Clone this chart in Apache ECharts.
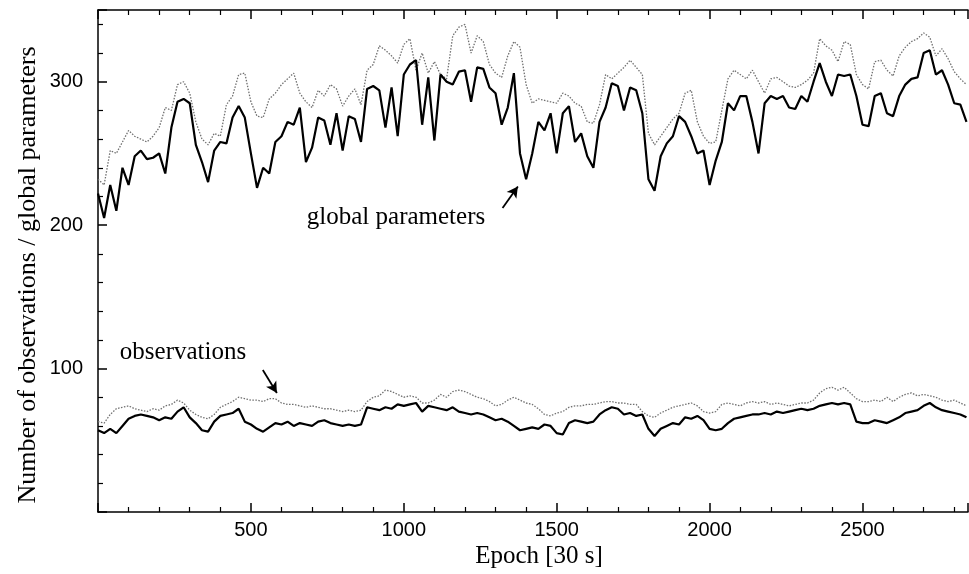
<!DOCTYPE html>
<html>
<head>
<meta charset="utf-8">
<script src="https://cdn.jsdelivr.net/npm/echarts@6/dist/echarts.min.js"></script>
<style>
html,body{margin:0;padding:0;background:#fff;}
#chart{width:969px;height:574px;}
</style>
</head>
<body>
<div id="chart"></div>
<script>
// Epochs (sampling grid, 30 s units)
const epochs = [0,20,40,60,80,100,120,140,160,180,200,220,240,260,280,300,320,340,360,380,
400,420,440,460,480,500,520,540,560,580,600,620,640,660,680,700,720,740,760,780,
800,820,840,860,880,900,920,940,960,980,1000,1020,1040,1060,1080,1100,1120,1140,1160,1180,
1200,1220,1240,1260,1280,1300,1320,1340,1360,1380,1400,1420,1440,1460,1480,1500,1520,1540,1560,1580,
1600,1620,1640,1660,1680,1700,1720,1740,1760,1780,1800,1820,1840,1860,1880,1900,1920,1940,1960,1980,
2000,2020,2040,2060,2080,2100,2120,2140,2160,2180,2200,2220,2240,2260,2280,2300,2320,2340,2360,2380,
2400,2420,2440,2460,2480,2500,2520,2540,2560,2580,2600,2620,2640,2660,2680,2700,2720,2740,2760,2780,
2800,2820,2840];

// Global parameters (black, solid)
const globalBlack = [222,205,228,210,240,228,248,252,246,247,
250,236,268,286,288,285,256,244,230,252,
258,257,275,283,275,250,226,240,236,258,
262,272,270,282,244,254,275,273,256,278,
252,276,274,258,295,297,294,268,296,262,
305,312,315,270,303,259,305,300,298,307,
308,286,310,309,296,292,270,282,306,250,
232,250,272,266,278,250,278,283,258,264,
248,240,272,282,299,297,280,296,294,278,
232,224,248,257,262,276,272,262,250,252,
228,245,258,285,280,290,290,272,250,285,
290,288,290,282,281,290,286,300,313,300,
290,305,304,305,290,270,269,290,292,278,
276,290,298,302,303,320,322,305,308,298,
285,284,272];

// Global parameters (grey, dotted)
const globalGrey = [232,228,252,250,258,266,262,260,258,262,
268,282,280,298,300,292,272,260,256,264,
262,284,290,305,306,286,276,275,288,292,
298,302,306,292,286,282,294,290,298,295,
283,290,295,284,308,312,325,322,318,313,
326,330,308,320,306,314,305,302,332,338,
340,320,332,328,312,306,303,318,328,324,
298,285,288,287,286,285,292,290,285,283,
272,271,284,305,302,306,310,315,310,305,
264,256,262,268,274,278,292,294,272,262,
257,258,280,302,308,305,302,308,300,292,
302,303,300,297,296,298,301,306,330,325,
322,314,328,326,305,298,295,314,315,308,
304,318,324,328,330,334,331,318,323,316,
307,302,298];

// Observations (black, solid)
const obsBlack = [57,55,58,55,60,65,67,68,67,66,
64,66,65,70,73,66,62,57,56,63,
67,68,69,72,63,61,58,56,59,62,
61,63,60,62,61,60,63,64,62,61,
60,61,60,61,73,72,71,73,72,75,
74,75,76,70,74,73,72,71,73,70,
69,68,69,68,66,64,65,63,60,57,
58,59,58,61,60,55,54,62,64,63,
62,63,68,71,73,72,68,69,67,68,
58,53,58,60,62,61,66,65,67,64,
58,57,58,62,65,66,67,68,68,69,
68,70,69,70,71,72,71,72,74,75,
76,75,76,75,63,62,62,64,63,62,
64,66,69,70,71,74,76,73,71,70,
69,68,66];

// Observations (grey, dotted)
const obsGrey = [63,62,68,72,73,74,72,71,70,72,
71,74,75,78,76,71,68,66,65,68,
73,75,77,80,79,78,78,77,79,79,
76,75,75,74,73,74,73,72,72,71,
70,71,70,71,77,80,81,85,84,82,
80,81,80,76,76,78,82,80,84,85,
84,82,80,79,77,74,75,78,80,78,
76,75,72,68,67,69,70,73,74,74,
75,75,76,77,77,76,76,75,75,70,
67,66,69,71,73,74,75,76,74,70,
69,70,75,76,75,74,76,77,76,77,
75,76,75,74,75,76,76,78,83,86,
87,85,87,83,79,77,77,78,77,80,
77,80,82,83,81,82,81,80,78,77,
78,76,74];

// Annotation arrows [tail, tip] in data coordinates
const arrowGlobal = [[1323,212],[1373,227]];
const arrowObs = [[539,99],[585,83]];

const pairs = arr => epochs.map((e,i)=>[e,arr[i]]);

const chart = echarts.init(document.getElementById('chart'), null, {renderer:'canvas'});

const axisLine = {show:true, lineStyle:{color:'#000', width:1.5}};
const sansLabel = {fontFamily:'Liberation Sans', fontSize:20, color:'#000', formatter:v=>String(v)};

const option = {
  animation:false,
  backgroundColor:'#fff',
  grid:{left:98, right:1, top:10, bottom:62},
  xAxis:[{
    type:'value', min:0, max:2845, interval:500,
    axisLine:axisLine,
    axisTick:{show:true, inside:true, length:9, lineStyle:{color:'#000', width:1.5}},
    minorTick:{show:true, splitNumber:5, length:5, lineStyle:{color:'#000', width:1.2}},
    axisLabel:Object.assign({margin:8, showMinLabel:false, showMaxLabel:false}, sansLabel),
    splitLine:{show:false}
  },{
    type:'value', position:'top', min:0, max:2845, interval:500,
    axisLine:axisLine,
    axisTick:{show:true, inside:true, length:9, lineStyle:{color:'#000', width:1.5}},
    minorTick:{show:true, splitNumber:5, length:5, lineStyle:{color:'#000', width:1.2}},
    axisLabel:{show:false},
    splitLine:{show:false}
  }],
  yAxis:{
    type:'value', min:0, max:350, interval:100,
    axisLine:axisLine,
    axisTick:{show:true, inside:true, length:9, lineStyle:{color:'#000', width:1.5}},
    minorTick:{show:true, splitNumber:5, length:5, lineStyle:{color:'#000', width:1.2}},
    axisLabel:Object.assign({margin:15, showMinLabel:false, showMaxLabel:false}, sansLabel),
    splitLine:{show:false}
  },
  series:[
    {type:'line', data:pairs(globalGrey), showSymbol:false, symbol:'none',
     lineStyle:{color:'#707070', width:1.3, type:[1.5,1.5]}},
    {type:'line', data:pairs(obsGrey), showSymbol:false, symbol:'none',
     lineStyle:{color:'#707070', width:1.3, type:[1.5,1.5]}},
    {type:'line', data:pairs(globalBlack), showSymbol:false, symbol:'none',
     lineStyle:{color:'#000', width:2.2}},
    {type:'line', data:pairs(obsBlack), showSymbol:false, symbol:'none',
     lineStyle:{color:'#000', width:2.2},
     markLine:{
       silent:true, symbol:['none','arrow'], symbolSize:[9,11],
       label:{show:false},
       lineStyle:{color:'#000', width:1.8, type:'solid'},
       data:[
         [{coord:arrowGlobal[0]},{coord:arrowGlobal[1]}],
         [{coord:arrowObs[0]},{coord:arrowObs[1]}]
       ]
     }}
  ],
  graphic:[
    {type:'text', x:28, y:275, rotation:Math.PI/2,
     style:{text:'Number of observations / global parameters', font:'26px "Liberation Serif"', fill:'#000',
            textAlign:'center', textVerticalAlign:'middle'}},
    {type:'text', x:539, y:556,
     style:{text:'Epoch [30 s]', font:'25px "Liberation Serif"', fill:'#000',
            textAlign:'center', textVerticalAlign:'middle'}},
    {type:'text', x:396, y:217,
     style:{text:'global parameters', font:'25px "Liberation Serif"', fill:'#000',
            textAlign:'center', textVerticalAlign:'middle'}},
    {type:'text', x:183, y:352,
     style:{text:'observations', font:'25px "Liberation Serif"', fill:'#000',
            textAlign:'center', textVerticalAlign:'middle'}}
  ]
};
chart.setOption(option);
</script>
</body>
</html>
